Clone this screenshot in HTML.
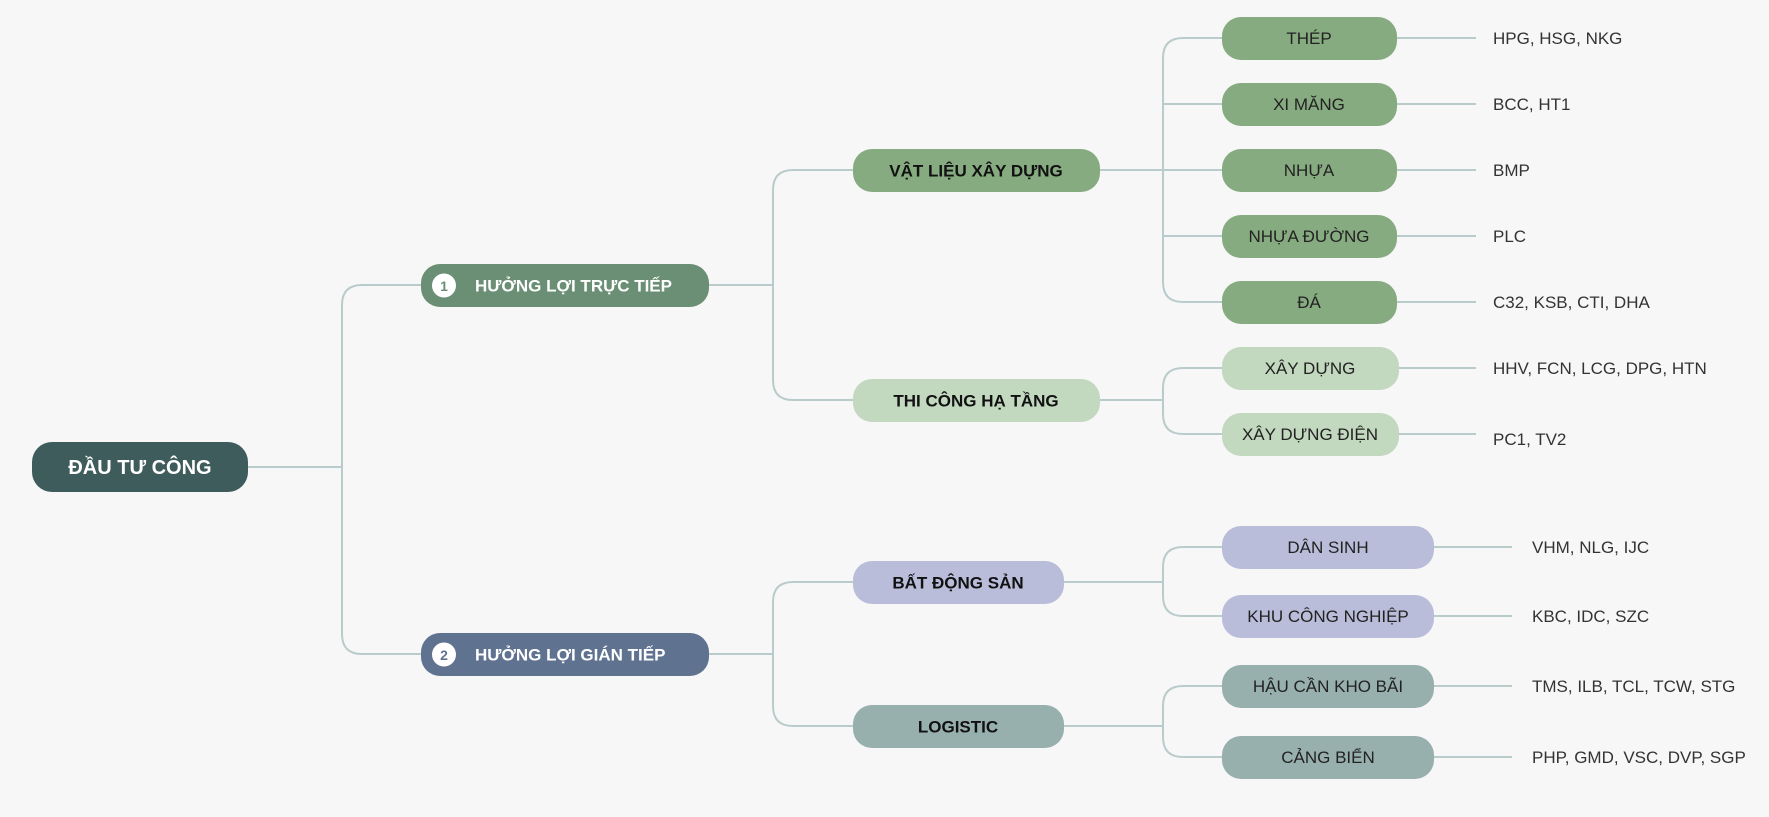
<!DOCTYPE html>
<html><head><meta charset="utf-8"><style>
html,body{margin:0;padding:0;background:#f7f7f7;}
svg{display:block}
text{font-family:"Liberation Sans",sans-serif;}
</style></head><body>
<svg width="1769" height="817" viewBox="0 0 1769 817" xmlns="http://www.w3.org/2000/svg">
<rect width="1769" height="817" fill="#f7f7f7"/>
<g fill="none" stroke="#b9cccb" stroke-width="2">
<path d="M248 467 H342"/>
<path d="M421 285 H362 Q342 285 342 305 V634 Q342 654 362 654 H421"/>
<path d="M709 285 H773"/>
<path d="M853 170 H793 Q773 170 773 190 V380 Q773 400 793 400 H853"/>
<path d="M709 654 H773"/>
<path d="M853 582 H793 Q773 582 773 602 V706 Q773 726 793 726 H853"/>
<path d="M1100 170 H1222"/>
<path d="M1222 38 H1183 Q1163 38 1163 58 V282 Q1163 302 1183 302 H1222"/>
<path d="M1163 104 H1222 M1163 236 H1222"/>
<path d="M1100 400 H1163"/>
<path d="M1222 368 H1183 Q1163 368 1163 388 V414 Q1163 434 1183 434 H1222"/>
<path d="M1064 582 H1163"/>
<path d="M1222 547 H1183 Q1163 547 1163 567 V596 Q1163 616 1183 616 H1222"/>
<path d="M1064 726 H1163"/>
<path d="M1222 686 H1183 Q1163 686 1163 706 V737 Q1163 757 1183 757 H1222"/>
<path d="M1397 38 H1476 M1397 104 H1476 M1397 170 H1476 M1397 236 H1476 M1397 302 H1476 M1397 368 H1476 M1397 434 H1476"/>
<path d="M1434 547 H1512 M1434 616 H1512 M1434 686 H1512 M1434 757 H1512"/>
</g>
<rect x="32" y="442" width="216" height="50" rx="20" fill="#3f5c5c"/>
<text x="140" y="474" text-anchor="middle" font-size="20" font-weight="bold" fill="#fff">ĐẦU TƯ CÔNG</text>

<rect x="421" y="264" width="288" height="43" rx="19" fill="#6b8f74"/>
<circle cx="444" cy="285.5" r="12" fill="#fff"/>
<text x="444" y="291" text-anchor="middle" font-size="14" font-weight="bold" fill="#6b8f74">1</text>
<text x="475" y="291.5" font-size="17" font-weight="bold" fill="#fff">HƯỞNG LỢI TRỰC TIẾP</text>

<rect x="421" y="633" width="288" height="43" rx="19" fill="#5f7391"/>
<circle cx="444" cy="654.5" r="12" fill="#fff"/>
<text x="444" y="660" text-anchor="middle" font-size="14" font-weight="bold" fill="#5f7391">2</text>
<text x="475" y="660.5" font-size="17" font-weight="bold" fill="#fff">HƯỞNG LỢI GIÁN TIẾP</text>

<rect x="853" y="149" width="247" height="43" rx="19" fill="#87ab80"/>
<text x="976" y="176.5" text-anchor="middle" font-size="17" font-weight="bold" fill="#111">VẬT LIỆU XÂY DỰNG</text>
<rect x="853" y="379" width="247" height="43" rx="19" fill="#c2d8bf"/>
<text x="976" y="406.5" text-anchor="middle" font-size="17" font-weight="bold" fill="#111">THI CÔNG HẠ TẦNG</text>
<rect x="853" y="561" width="211" height="43" rx="19" fill="#b9bdda"/>
<text x="958" y="588.5" text-anchor="middle" font-size="17" font-weight="bold" fill="#111">BẤT ĐỘNG SẢN</text>
<rect x="853" y="705" width="211" height="43" rx="19" fill="#98b0ad"/>
<text x="958" y="732.5" text-anchor="middle" font-size="17" font-weight="bold" fill="#111">LOGISTIC</text>

<g font-size="17" fill="#222" text-anchor="middle">
<rect x="1222" y="17" width="175" height="43" rx="19" fill="#87ab80"/><text x="1309" y="44">THÉP</text>
<rect x="1222" y="83" width="175" height="43" rx="19" fill="#87ab80"/><text x="1309" y="110">XI MĂNG</text>
<rect x="1222" y="149" width="175" height="43" rx="19" fill="#87ab80"/><text x="1309" y="176">NHỰA</text>
<rect x="1222" y="215" width="175" height="43" rx="19" fill="#87ab80"/><text x="1309" y="242">NHỰA ĐƯỜNG</text>
<rect x="1222" y="281" width="175" height="43" rx="19" fill="#87ab80"/><text x="1309" y="308">ĐÁ</text>
<rect x="1222" y="347" width="177" height="43" rx="19" fill="#c2d8bf"/><text x="1310" y="374">XÂY DỰNG</text>
<rect x="1222" y="413" width="177" height="43" rx="19" fill="#c2d8bf"/><text x="1310" y="440">XÂY DỰNG ĐIỆN</text>
<rect x="1222" y="526" width="212" height="43" rx="19" fill="#b9bdda"/><text x="1328" y="553">DÂN SINH</text>
<rect x="1222" y="595" width="212" height="43" rx="19" fill="#b9bdda"/><text x="1328" y="622">KHU CÔNG NGHIỆP</text>
<rect x="1222" y="665" width="212" height="43" rx="19" fill="#98b0ad"/><text x="1328" y="692">HẬU CẦN KHO BÃI</text>
<rect x="1222" y="736" width="212" height="43" rx="19" fill="#98b0ad"/><text x="1328" y="763">CẢNG BIỂN</text>
</g>
<g font-size="17" fill="#333">
<text x="1493" y="44">HPG, HSG, NKG</text>
<text x="1493" y="110">BCC, HT1</text>
<text x="1493" y="176">BMP</text>
<text x="1493" y="242">PLC</text>
<text x="1493" y="308">C32, KSB, CTI, DHA</text>
<text x="1493" y="374">HHV, FCN, LCG, DPG, HTN</text>
<text x="1493" y="445">PC1, TV2</text>
<text x="1532" y="553">VHM, NLG, IJC</text>
<text x="1532" y="622">KBC, IDC, SZC</text>
<text x="1532" y="692">TMS, ILB, TCL, TCW, STG</text>
<text x="1532" y="763">PHP, GMD, VSC, DVP, SGP</text>
</g>
</svg>
</body></html>
